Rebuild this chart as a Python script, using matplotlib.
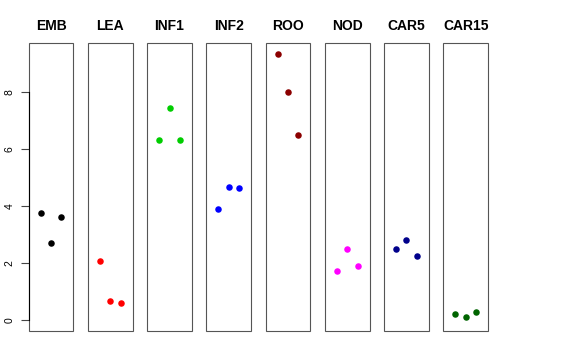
import matplotlib
matplotlib.use("Agg")
import matplotlib.pyplot as plt
from matplotlib.patches import Rectangle

plt.rcParams['font.family'] = ['Liberation Sans', 'DejaVu Sans']

groups = ['EMB', 'LEA', 'INF1', 'INF2', 'ROO', 'NOD', 'CAR5', 'CAR15']
colors = ['black', 'red', '#00CD00', 'blue', '#8B0000', 'magenta', '#00008B', '#006400']
reps = [1, 2, 3]
values = [
    [3.75, 2.71, 3.61],
    [2.08, 0.69, 0.61],
    [6.34, 7.45, 6.32],
    [3.92, 4.67, 4.63],
    [9.35, 8.01, 6.49],
    [1.73, 2.51, 1.92],
    [2.50, 2.82, 2.26],
    [0.22, 0.12, 0.29],
]
yticks = [0, 2, 4, 6, 8]

W, H = 576, 360
fig = plt.figure(figsize=(W / 100, H / 100), dpi=100)

ymax = max(max(v) for v in values)
pad = 0.04 * ymax
for i, g in enumerate(groups):
    left = 28.7 + i * 59.23
    ax = fig.add_axes([left / W, 29 / H, 44.7 / W, 288 / H])
    ax.scatter(reps, values[i], s=22, color=colors[i], linewidths=0, zorder=3)
    ax.set_xlim(-0.16, 4.16)
    ax.set_ylim(-pad, ymax + pad)
    ax.set_xticks([])
    ax.set_title(g, fontsize=10, fontweight='bold', pad=9)
    # grey box around each panel
    for sp in ax.spines.values():
        sp.set_visible(False)
    ax.add_patch(Rectangle((0, 0), 1, 1, transform=ax.transAxes, fill=False,
                           edgecolor='#555555', linewidth=0.8, clip_on=False))
    if i == 0:
        ax.spines['left'].set_visible(True)
        ax.spines['left'].set_bounds(yticks[0], yticks[-1])
        ax.spines['left'].set_color('black')
        ax.spines['left'].set_linewidth(0.8)
        ax.set_yticks(yticks)
        ax.set_yticklabels([str(t) for t in yticks], rotation=90, va='center', fontsize=7.5)
        ax.tick_params(axis='y', length=6, width=0.8, pad=4, color='#444444')
    else:
        ax.set_yticks([])

fig.savefig('out.png', dpi=100)
